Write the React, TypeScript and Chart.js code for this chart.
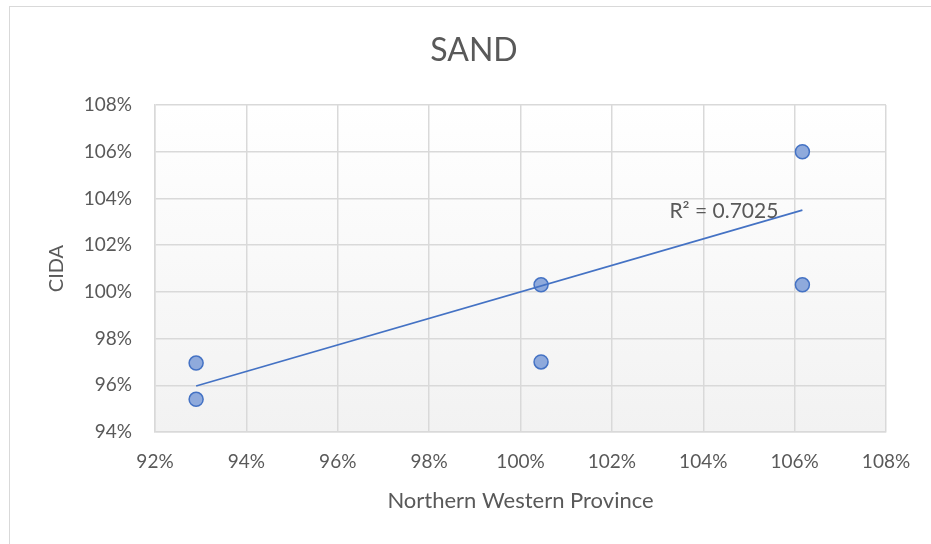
import React, { useEffect, useRef } from "react";
import { Chart, registerables } from "chart.js";

Chart.register(...registerables);

// Data (percent values)
const xValues = [92.9, 92.9, 100.45, 100.45, 106.17, 106.17];
const yValues = [96.95, 95.4, 100.3, 97.0, 106.0, 100.3];
const trendX = [92.9, 106.17];
const trendY = [95.97, 103.5];
const rSquaredLabel = "R\u00B2 = 0.7025";
const chartTitle = "SAND";
const xTitle = "Northern Western Province";
const yTitle = "CIDA";
const xTickMin = 92;
const xTickMax = 108;
const yTickMin = 94;
const yTickMax = 108;
const tickStep = 2;

const FONT = "Lato, 'Open Sans', sans-serif";
const TEXT = "#595959";
const GRID = "#d9d9d9";

export default function App() {
  const ref = useRef<HTMLCanvasElement | null>(null);

  useEffect(() => {
    const canvas = ref.current;
    if (!canvas) return;

    const bgPlugin = {
      id: "bgPlugin",
      beforeDraw(chart: any) {
        const { ctx, chartArea } = chart;
        const { left, top, right, bottom } = chartArea;
        ctx.save();
        ctx.fillStyle = "#ffffff";
        ctx.fillRect(0, 0, chart.width, chart.height);
        ctx.strokeStyle = GRID;
        ctx.lineWidth = 1;
        ctx.strokeRect(9.5, 6.5, 1000, 1000);
        const g = ctx.createLinearGradient(0, top, 0, bottom);
        g.addColorStop(0, "#ffffff");
        g.addColorStop(1, "#f2f2f2");
        ctx.fillStyle = g;
        ctx.fillRect(left, top, right - left, bottom - top);
        ctx.restore();
      },
    };

    const r2Plugin = {
      id: "r2Plugin",
      afterDatasetsDraw(chart: any) {
        const { ctx, scales } = chart;
        const ex = scales.x.getPixelForValue(trendX[trendX.length - 1]);
        const ey = scales.y.getPixelForValue(trendY[trendY.length - 1]);
        ctx.save();
        ctx.font = `21px ${FONT}`;
        ctx.fillStyle = TEXT;
        ctx.textAlign = "right";
        ctx.textBaseline = "middle";
        ctx.fillText(rSquaredLabel, ex - 24, ey + 1);
        ctx.restore();
      },
    };

    const chart = new Chart(canvas, {
      type: "scatter",
      data: {
        datasets: [
          {
            label: "Trend",
            data: trendX.map((x, i) => ({ x, y: trendY[i] })),
            showLine: true,
            borderColor: "#4472c4",
            borderWidth: 1.75,
            pointRadius: 0,
            pointHoverRadius: 0,
          },
          {
            label: "SAND",
            data: xValues.map((x, i) => ({ x, y: yValues[i] })),
            backgroundColor: "#8faadc",
            borderColor: "#4472c4",
            borderWidth: 1.5,
            pointRadius: 7,
          },
        ],
      },
      options: {
        responsive: false,
        animation: false,
        devicePixelRatio: 1,
        layout: { padding: { left: 17, right: 0, top: 0, bottom: 0 } },
        plugins: {
          legend: { display: false },
          tooltip: { enabled: false },
          title: {
            display: true,
            text: chartTitle,
            color: TEXT,
            font: { family: FONT, size: 32, weight: "normal", lineHeight: 1.2 },
            padding: { top: 31, bottom: 35.6 },
          },
        },
        scales: {
          x: {
            type: "linear",
            min: xTickMin,
            max: xTickMax,
            ticks: {
              stepSize: tickStep,
              color: TEXT,
              font: { family: FONT, size: 19 },
              padding: 18,
              callback: (v: any) => `${v}%`,
            },
            grid: { color: GRID, lineWidth: 1.5, drawTicks: false },
            border: { color: GRID, width: 1.5 },
            title: {
              display: true,
              text: xTitle,
              color: TEXT,
              font: { family: FONT, size: 22, lineHeight: 1.2 },
              padding: { top: 0, bottom: 30 },
            },
            afterFit(scale: any) {
              scale.height = 112;
              scale.paddingRight = 45;
            },
          },
          y: {
            type: "linear",
            min: yTickMin,
            max: yTickMax,
            ticks: {
              stepSize: tickStep,
              color: TEXT,
              font: { family: FONT, size: 19 },
              padding: 23,
              callback: (v: any) => `${v}%`,
            },
            grid: { color: GRID, lineWidth: 1.5, drawTicks: false },
            border: { color: GRID, width: 1.5 },
            title: {
              display: true,
              text: yTitle,
              color: TEXT,
              font: { family: FONT, size: 20, lineHeight: 1.2 },
              padding: { top: 28, bottom: 0 },
            },
            afterFit(scale: any) {
              scale.width = 138;
            },
          },
        },
      },
      plugins: [bgPlugin, r2Plugin],
    });

    return () => chart.destroy();
  }, []);

  return (
    <div style={{ position: "fixed", left: 0, top: 0, width: 931, height: 544, overflow: "hidden" }}>
      <canvas ref={ref} width={931} height={544} style={{ display: "block", width: 931, height: 544 }} />
    </div>
  );
}
